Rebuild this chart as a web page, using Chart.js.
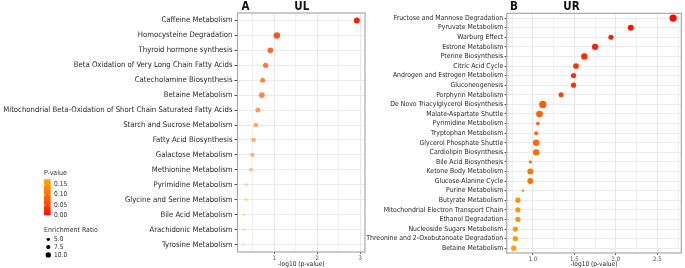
<!DOCTYPE html>
<html><head><meta charset="utf-8">
<script src="https://cdn.jsdelivr.net/npm/chart.js@4/dist/chart.umd.min.js"></script>
<style>
html,body{margin:0;padding:0;background:#fff;width:685px;height:268px;overflow:hidden;}
#ca{position:absolute;left:0;top:0;}
#cb{position:absolute;left:340px;top:0;}
</style></head><body>
<canvas id="ca" width="370" height="268"></canvas>
<canvas id="cb" width="345" height="268"></canvas>
<script>
// ---- data (panel A, "UL") ----
const catsA = ["Caffeine Metabolism","Homocysteine Degradation","Thyroid hormone synthesis","Beta Oxidation of Very Long Chain Fatty Acids","Catecholamine Biosynthesis","Betaine Metabolism","Mitochondrial Beta-Oxidation of Short Chain Saturated Fatty Acids","Starch and Sucrose Metabolism","Fatty Acid Biosynthesis","Galactose Metabolism","Methionine Metabolism","Pyrimidine Metabolism","Glycine and Serine Metabolism","Bile Acid Metabolism","Arachidonic Metabolism","Tyrosine Metabolism"];
const logpA = [2.92,1.06,0.91,0.80,0.73,0.71,0.62,0.57,0.52,0.49,0.46,0.35,0.34,0.30,0.29,0.28];
const erA = [11.8,13.0,10.9,10.0,9.3,10.9,9.3,8.4,8.4,7.6,6.8,5.9,5.9,5.1,5.1,4.3];

// ---- data (panel B, "UR") ----
const catsB = ["Fructose and Mannose Degradation","Pyruvate Metabolism","Warburg Effect","Estrone Metabolism","Pterine Biosynthesis","Citric Acid Cycle","Androgen and Estrogen Metabolism","Gluconeogenesis","Porphyrin Metabolism","De Novo Triacylglycerol Biosynthesis","Malate-Aspartate Shuttle","Pyrimidine Metabolism","Tryptophan Metabolism","Glycerol Phosphate Shuttle","Cardiolipin Biosynthesis","Bile Acid Biosynthesis","Ketone Body Metabolism","Glucose-Alanine Cycle","Purine Metabolism","Butyrate Metabolism","Mitochondrial Electron Transport Chain","Ethanol Degradation","Nucleoside Sugars Metabolism","Threonine and 2-Oxobutanoate Degradation","Betaine Metabolism"];
const logpB = [2.69,2.18,1.94,1.75,1.62,1.52,1.49,1.49,1.34,1.12,1.08,1.06,1.04,1.04,1.04,0.97,0.97,0.97,0.88,0.82,0.82,0.82,0.79,0.79,0.77];
const erB = [15,11.8,9.3,12.6,12.6,10.9,10,10,9.3,15,13.4,5.9,6.8,12.6,12.6,5.1,11.8,11.8,2.6,10,10,10,10,10,10];

// ---- legend ticks ----
const pLegendTicks = [0.15,0.10,0.05,0.00];
const erLegendTicks = [5.0,7.5,10.0];
const P_MAX = 0.175;

const FAM = "'Liberation Sans Narrow','DejaVu Sans Condensed','Roboto Condensed',Roboto,'Liberation Sans',sans-serif";
const mctx = document.createElement('canvas').getContext('2d');
function fitSize(text, target, weight){ mctx.font = (weight||'') + ' 20px ' + FAM; return 20*target/mctx.measureText(text).width; }

const fsA = fitSize("Beta Oxidation of Very Long Chain Fatty Acids", 159);
const fsB = fitSize("Threonine and 2-Oxobutanoate Degradation", 137);
const fsTitle = fitSize("-log10 (p-value)", 47);
const fsTick = fsTitle * 0.92;
const fsLegT = fitSize("Enrichment Ratio", 54);

// red -> orange ramp over p-value
function colorP(p){
  const t = Math.pow(Math.min(p/P_MAX, 1), 0.7);
  return 'rgb(255,' + Math.round(165*t) + ',0)';
}
// panel A: reddish hue fading out (transparent) as p grows
function colorFadeP(p){
  const t = Math.min(p/0.45, 1);
  const g = Math.round(30 + 150*t);
  const a = Math.max(0.2, Math.min(1, 1.0 - 1.4*p));
  return 'rgba(255,' + g + ',' + Math.round(20*t) + ',' + a + ')';
}
function rad(er){ return 0.65 + 0.2*er; }

const frame = {
  id:'frame',
  afterDraw(chart, args, o){
    const {ctx, chartArea:a} = chart;
    ctx.save();
    ctx.strokeStyle = '#a8a8a8'; ctx.lineWidth = 1.2;
    ctx.strokeRect(a.left, a.top, a.right-a.left, a.bottom-a.top);
    ctx.fillStyle = '#111';
    ctx.font = 'bold 11.5px ' + FAM;
    ctx.textBaseline = 'alphabetic';
    ctx.fillText(o.tag, o.tagX, 9.5);
    ctx.fillText(o.grp, o.grpX, 9.5);
    ctx.restore();
  }
};

const legendA = {
  id:'legendA',
  afterDraw(chart){
    const ctx = chart.ctx;
    ctx.save();
    ctx.fillStyle = '#333';
    ctx.textBaseline = 'middle';
    ctx.font = fsLegT + 'px ' + FAM;
    ctx.fillText('P-value', 44, 173.5);
    const top = 179.3, h = 36, x = 44, w = 6.7;
    const grad = ctx.createLinearGradient(0, top, 0, top+h);
    for (let i=0;i<=20;i++){ grad.addColorStop(i/20, colorP(P_MAX*(1-i/20))); }
    ctx.fillStyle = grad;
    ctx.fillRect(x, top, w, h);
    ctx.font = (fsLegT*0.95) + 'px ' + FAM;
    pLegendTicks.forEach(v => {
      const y = top + h - v/P_MAX*h;
      ctx.strokeStyle = 'rgba(255,255,255,0.9)'; ctx.lineWidth = 0.8;
      ctx.beginPath(); ctx.moveTo(x, y); ctx.lineTo(x+1.4, y); ctx.moveTo(x+w-1.4, y); ctx.lineTo(x+w, y); ctx.stroke();
      ctx.fillStyle = '#333';
      ctx.fillText(v.toFixed(2), 54, y);
    });
    ctx.font = fsLegT + 'px ' + FAM;
    ctx.fillText('Enrichment Ratio', 44, 230);
    ctx.font = (fsLegT*0.95) + 'px ' + FAM;
    erLegendTicks.forEach((v,i) => {
      const y = 239.3 + i*7.8;
      ctx.fillStyle = '#000';
      ctx.beginPath(); ctx.arc(48.3, y, rad(v), 0, Math.PI*2); ctx.fill();
      ctx.fillStyle = '#333';
      ctx.fillText(v.toFixed(1), 54, y);
    });
    ctx.restore();
  }
};

function isMult(v, s){ return Math.abs(v/s - Math.round(v/s)) < 1e-6; }

function makeChart(el, cats, logp, er, cfg){
  return new Chart(el, {
    type:'scatter',
    data:{ datasets:[{
      data: cats.map((c,i)=>({x: logp[i], y: c})),
      pointRadius: ctx => rad(er[ctx.dataIndex]),
      pointHoverRadius: ctx => rad(er[ctx.dataIndex]),
      pointBorderWidth: 0,
      pointBackgroundColor: ctx => cfg.color(Math.pow(10, -logp[ctx.dataIndex])),
      pointBorderColor: 'rgba(0,0,0,0)'
    }]},
    options:{
      responsive:false, animation:false, devicePixelRatio:1,
      layout:{ padding:{ left:0, right:cfg.padRight, top:cfg.padTop, bottom:0 } },
      plugins:{ legend:{display:false}, tooltip:{enabled:false}, frame:cfg.frame },
      scales:{
        x:{
          type:'linear', min:cfg.min, max:cfg.max,
          border:{display:false},
          grid:{
            color: c => isMult(c.tick.value, cfg.major) ? '#e6e6e6' : '#f1f1f1',
            tickColor: c => isMult(c.tick.value, cfg.major) ? '#555' : 'rgba(0,0,0,0)',
            tickLength: 2, drawTicks:true
          },
          ticks:{
            stepSize: cfg.step, includeBounds:false, autoSkip:false, maxRotation:0,
            padding: 1, color:'#4d4d4d', font:{family:FAM, size:fsTick},
            callback: v => isMult(v, cfg.major) ? v.toFixed(cfg.dec) : ''
          },
          title:{ display:true, text:'-log10 (p-value)', color:'#222', font:{family:FAM, size:fsTitle}, padding:{top:0,bottom:0} },
          afterFit: s => { s.height = cfg.xH; }
        },
        y:{
          type:'category', labels:cats, offset:true,
          border:{display:false},
          grid:{ color:'#ebebeb', offset:false, drawTicks:true, tickLength:cfg.tickLen, tickColor:'#444' },
          ticks:{ autoSkip:false, padding:cfg.tickPad, color:'#1e1e1e', font:{family:FAM, size:cfg.fs} },
          afterFit: s => { s.width = cfg.yW; }
        }
      }
    },
    plugins: cfg.plugins
  });
}

makeChart(document.getElementById('ca'), catsA, logpA, erA, {
  color: colorFadeP, min:0.145, max:3.11, step:0.5, major:1, dec:0,
  padRight:5, padTop:13, xH:16, yW:237.5, tickLen:3, tickPad:2, fs:fsA,
  frame:{tag:'A', tagX:241.5, grp:'UL', grpX:294.3},
  plugins:[frame, legendA]
});
makeChart(document.getElementById('cb'), catsB, logpB, erB, {
  color: colorP, min:0.685, max:2.789, step:0.25, major:0.5, dec:1,
  padRight:1, padTop:13.3, xH:15, yW:166.7, tickLen:2, tickPad:1.5, fs:fsB,
  frame:{tag:'B', tagX:170, grp:'UR', grpX:223.3},
  plugins:[frame]
});
</script>
</body></html>
